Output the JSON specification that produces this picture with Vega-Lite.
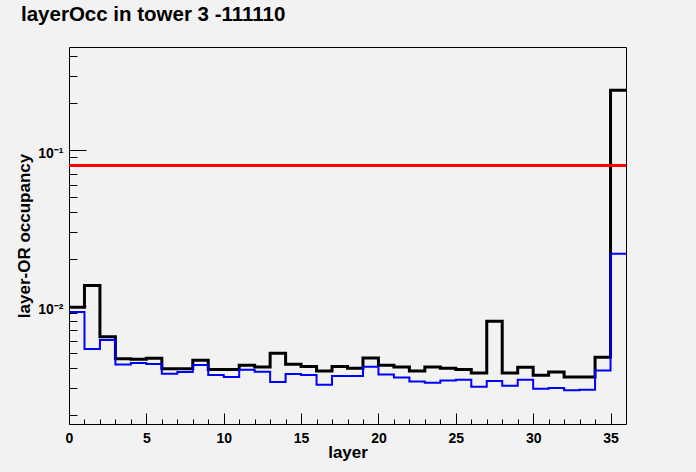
{
  "$schema": "https://vega.github.io/schema/vega-lite/v6.json",
  "width": 557,
  "height": 377,
  "autosize": {"type": "none"},
  "padding": {"left": 69, "top": 47, "right": 70, "bottom": 48},
  "background": "#f2f2f2",
  "config": {
    "view": {"stroke": "black", "strokeWidth": 1, "fill": "#f2f2f2"},
    "font": "Liberation Sans"
  },
  "title": {
    "text": "layerOcc in tower 3 -111110",
    "font": "Liberation Sans",
    "fontSize": 20.5,
    "fontWeight": "bold",
    "color": "black",
    "anchor": "start",
    "frame": "group",
    "orient": "top",
    "offset": 22,
    "dx": -48
  },
  "datasets": {
    "hist": [
      {"layer": 0, "black": 0.00985, "blue": 0.0092},
      {"layer": 1, "black": 0.0136, "blue": 0.00532},
      {"layer": 2, "black": 0.00638, "blue": 0.00608},
      {"layer": 3, "black": 0.00461, "blue": 0.00423},
      {"layer": 4, "black": 0.00457, "blue": 0.00433},
      {"layer": 5, "black": 0.00464, "blue": 0.00427},
      {"layer": 6, "black": 0.00398, "blue": 0.0037},
      {"layer": 7, "black": 0.00398, "blue": 0.00379},
      {"layer": 8, "black": 0.00451, "blue": 0.00421},
      {"layer": 9, "black": 0.00394, "blue": 0.00363},
      {"layer": 10, "black": 0.00394, "blue": 0.00352},
      {"layer": 11, "black": 0.00419, "blue": 0.00392},
      {"layer": 12, "black": 0.00408, "blue": 0.00381},
      {"layer": 13, "black": 0.005, "blue": 0.00327},
      {"layer": 14, "black": 0.00425, "blue": 0.00368},
      {"layer": 15, "black": 0.00412, "blue": 0.00363},
      {"layer": 16, "black": 0.00385, "blue": 0.00314},
      {"layer": 17, "black": 0.00412, "blue": 0.00357},
      {"layer": 18, "black": 0.00401, "blue": 0.00357},
      {"layer": 19, "black": 0.00466, "blue": 0.0041},
      {"layer": 20, "black": 0.00419, "blue": 0.00365},
      {"layer": 21, "black": 0.00408, "blue": 0.00349},
      {"layer": 22, "black": 0.00385, "blue": 0.00329},
      {"layer": 23, "black": 0.00408, "blue": 0.00324},
      {"layer": 24, "black": 0.00401, "blue": 0.00334},
      {"layer": 25, "black": 0.00394, "blue": 0.00338},
      {"layer": 26, "black": 0.00373, "blue": 0.00305},
      {"layer": 27, "black": 0.00801, "blue": 0.00332},
      {"layer": 28, "black": 0.00373, "blue": 0.0031},
      {"layer": 29, "black": 0.00406, "blue": 0.00338},
      {"layer": 30, "black": 0.00361, "blue": 0.00296},
      {"layer": 31, "black": 0.00379, "blue": 0.00299},
      {"layer": 32, "black": 0.00352, "blue": 0.0029},
      {"layer": 33, "black": 0.00352, "blue": 0.00292},
      {"layer": 34, "black": 0.00471, "blue": 0.00387},
      {"layer": 35, "black": 0.2427, "blue": 0.0217},
      {"layer": 36, "black": 0.2427, "blue": 0.0217}
    ]
  },
  "layer": [
    {
      "data": {"name": "hist"},
      "mark": {"type": "line", "interpolate": "step-after", "color": "black", "strokeWidth": 3, "strokeJoin": "miter", "clip": true},
      "encoding": {
        "x": {
          "field": "layer",
          "type": "quantitative",
          "scale": {"domain": [0, 36], "nice": false, "zero": false},
          "axis": {
            "title": "layer",
            "values": [0,1,2,3,4,5,6,7,8,9,10,11,12,13,14,15,16,17,18,19,20,21,22,23,24,25,26,27,28,29,30,31,32,33,34,35],
            "labelExpr": "datum.value % 5 === 0 ? format(datum.value, 'd') : ''",
            "tickSize": {"condition": {"test": "datum.value % 5 === 0", "value": -11}, "value": -5},
            "tickColor": "black",
            "tickWidth": 1,
            "domain": false,
            "grid": false,
            "labelFont": "Liberation Sans",
            "labelFontSize": 14,
            "labelFontWeight": "bold",
            "labelColor": "black",
            "labelPadding": 18,
            "labelFlush": false,
            "labelOverlap": false,
            "labelBound": false,
            "titleFont": "Liberation Sans",
            "titleFontSize": 17,
            "titleFontWeight": "bold",
            "titleColor": "black",
            "titlePadding": -7
          }
        },
        "y": {
          "field": "black",
          "type": "quantitative",
          "scale": {"type": "log", "domain": [0.00176, 0.4595], "nice": false},
          "axis": {
            "title": "layer-OR occupancy",
            "values": [0.002,0.003,0.004,0.005,0.006,0.007,0.008,0.009,0.01,0.02,0.03,0.04,0.05,0.06,0.07,0.08,0.09,0.1,0.2,0.3,0.4],
            "labelExpr": "datum.value === 0.1 ? '10⁻¹' : datum.value === 0.01 ? '10⁻²' : ''",
            "tickSize": {"condition": {"test": "datum.value === 0.1 || datum.value === 0.01", "value": -17}, "value": -8},
            "tickColor": "black",
            "tickWidth": 1,
            "domain": false,
            "grid": false,
            "labelFont": "Liberation Sans",
            "labelFontSize": 14,
            "labelFontWeight": "bold",
            "labelColor": "black",
            "labelPadding": 23,
            "labelBaseline": "alphabetic",
            "labelOffset": 7,
            "labelOverlap": false,
            "labelBound": false,
            "titleFont": "Liberation Sans",
            "titleFontSize": 17,
            "titleFontWeight": "bold",
            "titleColor": "black",
            "titlePadding": 4
          }
        }
      }
    },
    {
      "data": {"name": "hist"},
      "mark": {"type": "line", "interpolate": "step-after", "color": "#0000ff", "strokeWidth": 2, "strokeJoin": "miter", "clip": true},
      "encoding": {
        "x": {
          "field": "layer",
          "type": "quantitative",
          "scale": {"domain": [0, 36], "nice": false, "zero": false},
          "axis": {
            "title": "layer",
            "values": [0,1,2,3,4,5,6,7,8,9,10,11,12,13,14,15,16,17,18,19,20,21,22,23,24,25,26,27,28,29,30,31,32,33,34,35],
            "labelExpr": "datum.value % 5 === 0 ? format(datum.value, 'd') : ''",
            "tickSize": {"condition": {"test": "datum.value % 5 === 0", "value": -11}, "value": -5},
            "tickColor": "black",
            "tickWidth": 1,
            "domain": false,
            "grid": false,
            "labelFont": "Liberation Sans",
            "labelFontSize": 14,
            "labelFontWeight": "bold",
            "labelColor": "black",
            "labelPadding": 18,
            "labelFlush": false,
            "labelOverlap": false,
            "labelBound": false,
            "titleFont": "Liberation Sans",
            "titleFontSize": 17,
            "titleFontWeight": "bold",
            "titleColor": "black",
            "titlePadding": -7
          }
        },
        "y": {
          "field": "blue",
          "type": "quantitative",
          "scale": {"type": "log", "domain": [0.00176, 0.4595], "nice": false},
          "axis": {
            "title": "layer-OR occupancy",
            "values": [0.002,0.003,0.004,0.005,0.006,0.007,0.008,0.009,0.01,0.02,0.03,0.04,0.05,0.06,0.07,0.08,0.09,0.1,0.2,0.3,0.4],
            "labelExpr": "datum.value === 0.1 ? '10⁻¹' : datum.value === 0.01 ? '10⁻²' : ''",
            "tickSize": {"condition": {"test": "datum.value === 0.1 || datum.value === 0.01", "value": -17}, "value": -8},
            "tickColor": "black",
            "tickWidth": 1,
            "domain": false,
            "grid": false,
            "labelFont": "Liberation Sans",
            "labelFontSize": 14,
            "labelFontWeight": "bold",
            "labelColor": "black",
            "labelPadding": 23,
            "labelBaseline": "alphabetic",
            "labelOffset": 7,
            "labelOverlap": false,
            "labelBound": false,
            "titleFont": "Liberation Sans",
            "titleFontSize": 17,
            "titleFontWeight": "bold",
            "titleColor": "black",
            "titlePadding": 4
          }
        }
      }
    },
    {
      "data": {"values": [{"threshold": 0.08}]},
      "mark": {"type": "rule", "color": "#ff0000", "strokeWidth": 3},
      "encoding": {
        "y": {
          "field": "threshold",
          "type": "quantitative",
          "scale": {"type": "log", "domain": [0.00176, 0.4595], "nice": false},
          "axis": {
            "title": "layer-OR occupancy",
            "values": [0.002,0.003,0.004,0.005,0.006,0.007,0.008,0.009,0.01,0.02,0.03,0.04,0.05,0.06,0.07,0.08,0.09,0.1,0.2,0.3,0.4],
            "labelExpr": "datum.value === 0.1 ? '10⁻¹' : datum.value === 0.01 ? '10⁻²' : ''",
            "tickSize": {"condition": {"test": "datum.value === 0.1 || datum.value === 0.01", "value": -17}, "value": -8},
            "tickColor": "black",
            "tickWidth": 1,
            "domain": false,
            "grid": false,
            "labelFont": "Liberation Sans",
            "labelFontSize": 14,
            "labelFontWeight": "bold",
            "labelColor": "black",
            "labelPadding": 23,
            "labelBaseline": "alphabetic",
            "labelOffset": 7,
            "labelOverlap": false,
            "labelBound": false,
            "titleFont": "Liberation Sans",
            "titleFontSize": 17,
            "titleFontWeight": "bold",
            "titleColor": "black",
            "titlePadding": 4
          }
        }
      }
    }
  ]
}
